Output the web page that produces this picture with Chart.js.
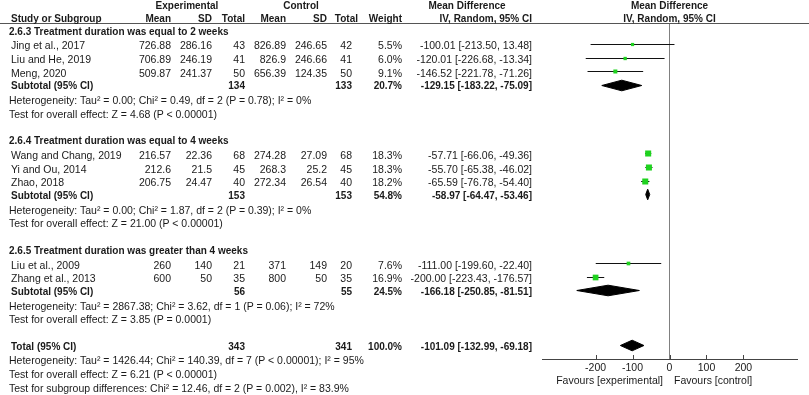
<!DOCTYPE html>
<html>
<head>
<meta charset="utf-8">
<script src="https://cdn.jsdelivr.net/npm/chart.js@4.4.1/dist/chart.umd.min.js"></script>
<style>
  body { margin: 0; background: #fff; }
  #wrap { position: relative; width: 809px; height: 395px; overflow: hidden; font-family: 'Liberation Sans', Arial, sans-serif; font-size: 10.5px; color: #1a1a1a; }
  #plot { position: absolute; left: 0; top: 0; }
  .t { position: absolute; white-space: nowrap; line-height: 12px; }
  .b { font-weight: bold; font-size: 10px; }
  #rule { position: absolute; left: 0; top: 23px; width: 809px; height: 1px; background: #555; }
</style>
</head>
<body>
<div id="wrap">
  <canvas id="plot" width="809" height="395"></canvas>
  <div id="rule"></div>
</div>
<script>
const studies = ['Jing et al., 2017', 'Liu and He, 2019', 'Meng, 2020', 'Wang and Chang, 2019', 'Yi and Ou, 2014', 'Zhao, 2018', 'Liu et al., 2009', 'Zhang et al., 2013']
const studyGroup = [0, 0, 0, 1, 1, 1, 2, 2]
const expMean = [726.88, 706.89, 509.87, 216.57, 212.6, 206.75, 260, 600]
const expSD = [286.16, 246.19, 241.37, 22.36, 21.5, 24.47, 140, 50]
const expN = [43, 41, 50, 68, 45, 40, 21, 35]
const ctrlMean = [826.89, 826.9, 656.39, 274.28, 268.3, 272.34, 371, 800]
const ctrlSD = [246.65, 246.66, 124.35, 27.09, 25.2, 26.54, 149, 50]
const ctrlN = [42, 41, 50, 68, 45, 40, 20, 35]
const weights = [5.5, 6.0, 9.1, 18.3, 18.3, 18.2, 7.6, 16.9]
const md = [-100.01, -120.01, -146.52, -57.71, -55.70, -65.59, -111.00, -200.00]
const mdLow = [-213.50, -226.68, -221.78, -66.06, -65.38, -76.78, -199.60, -223.43]
const mdHigh = [13.48, -13.34, -71.26, -49.36, -46.02, -54.40, -22.40, -176.57]

const groupTitles = ['2.6.3 Treatment duration was equal to 2 weeks', '2.6.4 Treatment duration was equal to 4 weeks', '2.6.5 Treatment duration was greater than 4 weeks']
const groupExpN = [134, 153, 56]
const groupCtrlN = [133, 153, 55]
const groupWeight = [20.7, 54.8, 24.5]
const groupMd = [-129.15, -58.97, -166.18]
const groupLow = [-183.22, -64.47, -250.85]
const groupHigh = [-75.09, -53.46, -81.51]
const groupHet = [
    'Heterogeneity: Tau² = 0.00; Chi² = 0.49, df = 2 (P = 0.78); I² = 0%',
    'Heterogeneity: Tau² = 0.00; Chi² = 1.87, df = 2 (P = 0.39); I² = 0%',
    'Heterogeneity: Tau² = 2867.38; Chi² = 3.62, df = 1 (P = 0.06); I² = 72%'
]
const groupTest = [
    'Test for overall effect: Z = 4.68 (P < 0.00001)',
    'Test for overall effect: Z = 21.00 (P < 0.00001)',
    'Test for overall effect: Z = 3.85 (P = 0.0001)'
]

const totalExpN = 343
const totalCtrlN = 341
const totalWeight = 100.0
const totalMd = -101.09
const totalLow = -132.99
const totalHigh = -69.18
const totalNotes = [
    'Heterogeneity: Tau² = 1426.44; Chi² = 140.39, df = 7 (P < 0.00001); I² = 95%',
    'Test for overall effect: Z = 6.21 (P < 0.00001)',
    'Test for subgroup differences: Chi² = 12.46, df = 2 (P = 0.002), I² = 83.9%'
]

const tickValues = [-200, -100, 0, 100, 200]
const favours = ['Favours [experimental]', 'Favours [control]']

// layout
const W = 809
const LINE = 13.7
const col = { expMean: 171, expSD: 212, expN: 245, ctrlMean: 286, ctrlSD: 327, ctrlN: 352, weight: 402, ci: 532 }
const wrap = document.getElementById('wrap')

function put(text, x, y, align, bold) {
    const d = document.createElement('div')
    d.className = 't' + (bold ? ' b' : '')
    d.textContent = text
    d.style.top = (y - 6) + 'px'
    if (align === 'right') {
        d.style.right = (W - x) + 'px'
    } else if (align === 'center') {
        d.style.left = x + 'px'
        d.style.transform = 'translateX(-50%)'
    } else {
        d.style.left = x + 'px'
    }
    wrap.appendChild(d)
}

function ciText(v, lo, hi) {
    return `${v.toFixed(2)} [${lo.toFixed(2)}, ${hi.toFixed(2)}]`
}

// header
put('Experimental', 187, 6, 'center', true)
put('Control', 301, 6, 'center', true)
put('Mean Difference', 467, 6, 'center', true)
put('Mean Difference', 669.5, 6, 'center', true)
put('Study or Subgroup', 11, 19, 'left', true)
put('Mean', col.expMean, 19, 'right', true)
put('SD', col.expSD, 19, 'right', true)
put('Total', col.expN, 19, 'right', true)
put('Mean', col.ctrlMean, 19, 'right', true)
put('SD', col.ctrlSD, 19, 'right', true)
put('Total', col.ctrlN + 6, 19, 'right', true)
put('Weight', col.weight, 19, 'right', true)
put('IV, Random, 95% CI', col.ci, 19, 'right', true)
put('IV, Random, 95% CI', 669.5, 19, 'center', true)

const studyY = []
const groupY = []
let y = 31.6
groupTitles.forEach((title, g) => {
    put(title, 9, y, 'left', true)
    y += LINE
    studies.forEach((s, i) => {
        if (studyGroup[i] !== g) return
        put(s, 11, y, 'left', false)
        put(String(expMean[i]), col.expMean, y, 'right')
        put(String(expSD[i]), col.expSD, y, 'right')
        put(String(expN[i]), col.expN, y, 'right')
        put(String(ctrlMean[i]), col.ctrlMean, y, 'right')
        put(String(ctrlSD[i]), col.ctrlSD, y, 'right')
        put(String(ctrlN[i]), col.ctrlN, y, 'right')
        put(weights[i].toFixed(1) + '%', col.weight, y, 'right')
        put(ciText(md[i], mdLow[i], mdHigh[i]), col.ci, y, 'right')
        studyY[i] = y
        y += LINE
    })
    put('Subtotal (95% CI)', 11, y, 'left', true)
    put(String(groupExpN[g]), col.expN, y, 'right', true)
    put(String(groupCtrlN[g]), col.ctrlN, y, 'right', true)
    put(groupWeight[g].toFixed(1) + '%', col.weight, y, 'right', true)
    put(ciText(groupMd[g], groupLow[g], groupHigh[g]), col.ci, y, 'right', true)
    groupY[g] = y
    y += LINE
    put(groupHet[g], 9, y, 'left')
    y += LINE
    put(groupTest[g], 9, y, 'left')
    y += LINE * 2
})
put('Total (95% CI)', 11, y, 'left', true)
put(String(totalExpN), col.expN, y, 'right', true)
put(String(totalCtrlN), col.ctrlN, y, 'right', true)
put(totalWeight.toFixed(1) + '%', col.weight, y, 'right', true)
put(ciText(totalMd, totalLow, totalHigh), col.ci, y, 'right', true)
const totalY = y
totalNotes.forEach(n => {
    y += LINE
    put(n, 9, y, 'left')
})
put(favours[0], 663, 380, 'right')
put(favours[1], 674, 380, 'left')

// forest plot: y scale runs in page pixels, marks sit just above the text centre
const DIAMOND = 5.3
const markY = ty => Math.floor(ty - 1) + 0.5
const datasets = []

datasets.push({
    data: md.map((v, i) => ({ x: v, y: markY(studyY[i]) })),
    showLine: false,
    pointStyle: 'rect',
    pointRadius: weights.map(w => (2 + w * 0.22) / Math.SQRT2),
    backgroundColor: '#1fd21f',
    borderWidth: 0,
    order: 0
})

function addDiamond(v, lo, hi, cy) {
    datasets.push({
        data: [{ x: lo, y: cy }, { x: v, y: cy - DIAMOND }, { x: hi, y: cy }],
        borderColor: '#000', backgroundColor: '#000', borderWidth: 1,
        pointRadius: 0, fill: '+1', order: 1
    })
    datasets.push({
        data: [{ x: lo, y: cy }, { x: v, y: cy + DIAMOND }, { x: hi, y: cy }],
        borderColor: '#000', backgroundColor: '#000', borderWidth: 1,
        pointRadius: 0, fill: false, order: 1
    })
}
groupMd.forEach((v, g) => addDiamond(v, groupLow[g], groupHigh[g], markY(groupY[g])))
addDiamond(totalMd, totalLow, totalHigh, markY(totalY))

md.forEach((v, i) => {
    datasets.push({
        data: [{ x: mdLow[i], y: markY(studyY[i]) }, { x: mdHigh[i], y: markY(studyY[i]) }],
        borderColor: '#111', borderWidth: 1, pointRadius: 0, fill: false, order: 2
    })
})

const tickMarks = {
    id: 'tickMarks',
    afterDraw(chart) {
        const sx = chart.scales.x
        const ctx = chart.ctx
        const bottom = chart.chartArea.bottom
        ctx.save()
        ctx.strokeStyle = '#444'
        ctx.lineWidth = 1
        sx.ticks.forEach(t => {
            const px = Math.round(sx.getPixelForValue(t.value)) + 0.5
            ctx.beginPath()
            ctx.moveTo(px, bottom)
            ctx.lineTo(px, bottom - 4)
            ctx.stroke()
        })
        ctx.restore()
    }
}

new Chart(document.getElementById('plot'), {
    type: 'line',
    data: { datasets },
    options: {
        responsive: false,
        animation: false,
        events: [],
        layout: { padding: { left: 542, right: 12, top: 24, bottom: 0 } },
        plugins: { legend: { display: false }, tooltip: { enabled: false } },
        elements: { line: { tension: 0 } },
        scales: {
            x: {
                type: 'linear',
                min: -345,
                max: 345,
                afterBuildTicks: s => { s.ticks = tickValues.map(v => ({ value: v })) },
                afterFit: s => { s.height = 36 },
                ticks: {
                    font: { size: 10.5, family: "'Liberation Sans', Arial, sans-serif" },
                    color: '#1a1a1a',
                    padding: 3,
                    maxRotation: 0,
                    autoSkip: false
                },
                grid: {
                    drawTicks: false,
                    color: c => (c.tick && c.tick.value === 0) ? '#808080' : 'rgba(0,0,0,0)'
                },
                border: { display: true, color: '#444', width: 1 }
            },
            y: {
                type: 'linear',
                reverse: true,
                min: 24,
                max: 359,
                display: false
            }
        }
    },
    plugins: [tickMarks]
})
</script>
</body>
</html>
